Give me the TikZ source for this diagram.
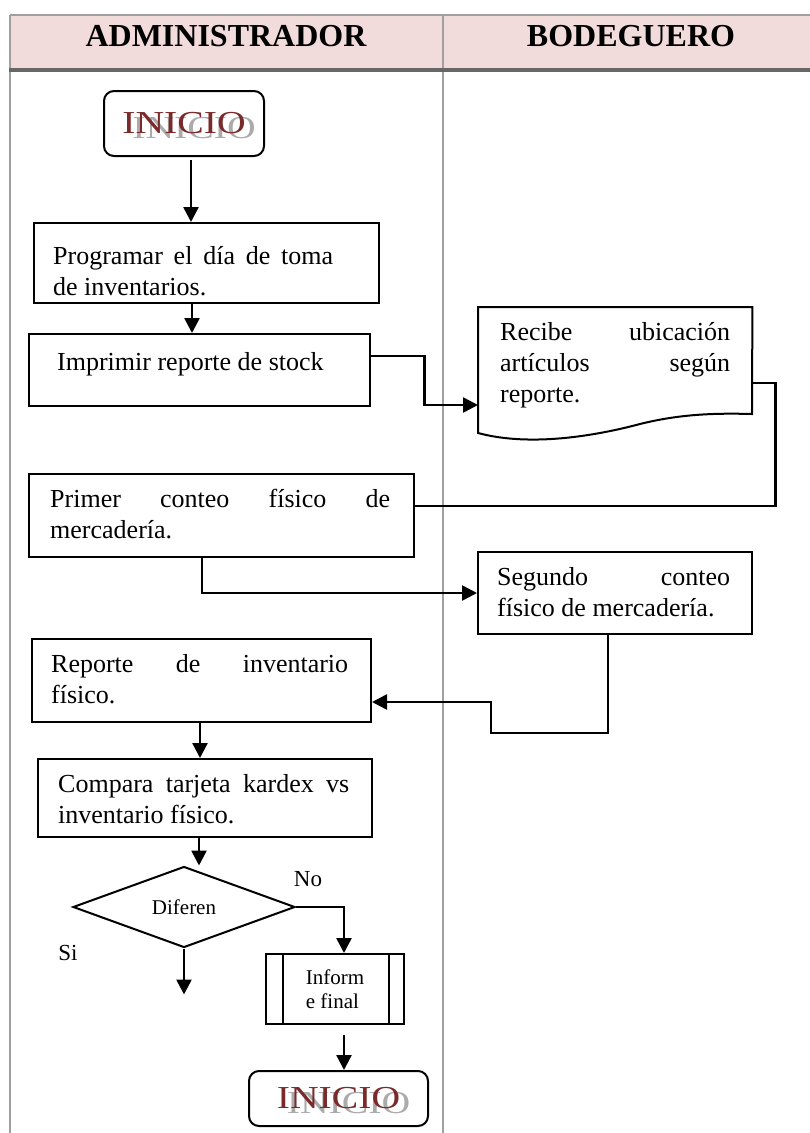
\documentclass[tikz,border=0pt]{standalone}
\usepackage{fontspec}
\usepackage{graphicx}
\setmainfont{Liberation Serif}
\usetikzlibrary{calc,shapes.geometric,arrows.meta}

\definecolor{headfill}{HTML}{F2DCDB}
\definecolor{rulegray}{HTML}{A0A0A0}
\definecolor{rulethick}{HTML}{666666}
\definecolor{iniciored}{HTML}{7A2A2A}
\definecolor{inicioshade}{HTML}{ABABAB}

% a line stretched to a fixed width (justified)
\newcommand{\jline}[2]{\makebox[#1][s]{#2}}
% the word of the terminal boxes, with its grey shadow
\newcommand{\inicioword}{\rlap{\smash{\hspace{10pt}\raisebox{-5pt}{\color{inicioshade}\scalebox{1.24}[1]{INICIO}}}}\textcolor{iniciored}{\scalebox{1.24}[1]{INICIO}}}

\begin{document}
\begin{tikzpicture}[x=1pt,y=-1pt,
  box/.style={draw, line width=2pt, rectangle, anchor=north west, inner sep=0pt},
  term/.style={draw, line width=2pt, rectangle, rounded corners=10pt, anchor=north west,
    inner sep=0pt, font=\fontsize{32}{38}\selectfont},
  txt/.style={anchor=base west, inner sep=0pt, align=left, font=\fontsize{26}{31}\selectfont},
  small/.style={font=\fontsize{21}{24}\selectfont},
  lbl/.style={inner sep=0pt, font=\fontsize{23}{27}\selectfont},
  head/.style={anchor=base, inner sep=0pt, font=\fontsize{32}{38}\selectfont\bfseries},
  conn/.style={line width=2.6pt},
  arr/.style={conn, -{Triangle[length=15pt,width=15pt]}},
  lane/.style={rulegray, line width=2.3pt}]

\useasboundingbox (0,0) rectangle (810,1133);

% ---- swimlane table ----
\fill[headfill] (10,15) rectangle (810,70);
\draw[lane] (10,15) -- (810,15);
\draw[lane] (10,15) -- (10,1133);
\draw[lane] (443,15) -- (443,1133);
\draw[rulethick, line width=3.5pt] (9,70) -- (810,70);
\node[head] (hadm) at (226,46) {ADMINISTRADOR};
\node[head] (hbod) at (631,46) {BODEGUERO};

% ---- process boxes (text nodes are anchored at the baseline of their last line) ----
\node[term, minimum width=160pt, minimum height=65pt] (start) at (103,90) {\inicioword};

\node[box, minimum width=345pt, minimum height=80pt] (b1) at (33,222) {};
\node[txt] (b1t) at (53,295) {\jline{280pt}{Programar el día de toma}\\de inventarios.};

\node[box, minimum width=341pt, minimum height=72pt] (b2) at (28,333) {};
\node[txt] (b2t) at (57,370) {Imprimir reporte de stock};

% document shape with a wavy lower edge
\node[anchor=north west, inner sep=0pt, minimum width=274pt, minimum height=126pt] (doc) at (478,307) {};
\draw[line width=2pt] (doc.north west) -- (doc.north east) -- (752,414)
  .. controls (715,413) and (680,414) .. (640,424)
  .. controls (595,436) and (530,447) .. (478,433) -- cycle;
\node[txt] (doct) at (500,402) {\jline{230pt}{Recibe ubicación}\\\jline{230pt}{artículos según}\\reporte.};

\node[box, minimum width=385pt, minimum height=83pt] (b3) at (28,473) {};
\node[txt] (b3t) at (50,538) {\jline{340pt}{Primer conteo físico de}\\mercadería.};

\node[box, minimum width=274pt, minimum height=82pt] (b4) at (477,551) {};
\node[txt] (b4t) at (497,616) {\jline{233pt}{Segundo conteo}\\físico de mercadería.};

\node[box, minimum width=339pt, minimum height=83pt] (b5) at (31,638) {};
\node[txt] (b5t) at (51,703) {\jline{297pt}{Reporte de inventario}\\físico.};

\node[box, minimum width=334pt, minimum height=78pt] (b6) at (37,758) {};
\node[txt] (b6t) at (58,823) {\jline{291pt}{Compara tarjeta kardex vs}\\inventario físico.};

\node[diamond, draw, line width=2pt, inner sep=0pt, minimum width=222pt, minimum height=81pt, small] (dia) at (184,907) {Diferen};

\node[box, small, align=left, minimum width=138pt, minimum height=70pt] (b7) at (265,953) {Inform\\e final};
\draw[line width=1.8pt] ($(b7.north west)+(18,0)$) -- ($(b7.south west)+(18,0)$);
\draw[line width=1.8pt] ($(b7.north east)+(-16,0)$) -- ($(b7.south east)+(-16,0)$);

\node[term, minimum width=179pt, minimum height=55pt] (end) at (248,1070) {\inicioword};

\node[lbl] (no) at (308,879) {No};
\node[lbl] (si) at (68,953) {Si};

% ---- connectors ----
\coordinate (a1) at ($(start.south)+(7,3)$);
\draw[arr] (a1) -- (a1 |- b1.north);

\coordinate (a2) at ($(b1.south west)+(159,0)$);
\draw[arr] (a2) -- (a2 |- b2.north);

\coordinate (c1) at ($(b2.north east)+(0,23)$);
\coordinate (c2) at ($(doc.north west)+(0,98)$);
\draw[arr] (c1) -| ($(c1)!.5!(c2)$) |- (c2);

\coordinate (d1) at ($(doc.north east)+(0,76)$);
\coordinate (d2) at ($(b3.north east)+(0,33)$);
\draw[conn] (d1) -- ++(23,0) |- (d2);

\coordinate (e1) at ($(b3.south west)+(174,0)$);
\draw[arr] (e1) |- (b4.west);

\coordinate (f1) at ($(b4.south west)+(131,0)$);
\coordinate (f2) at ($(b5.north east)+(0,64)$);
\draw[arr] (f1) -- ++(0,98) -| ($(f2)+(119,0)$) -- (f2);

\coordinate (g1) at ($(b5.south west)+(169,0)$);
\draw[arr] (g1) -- (g1 |- b6.north);

\coordinate (g2) at ($(b6.south west)+(162,0)$);
\draw[arr] (g2) -- (g2 |- dia.north);

\coordinate (h1) at ($(b7.north west)+(79,0)$);
\draw[arr] (dia.east) -| (h1);

\coordinate (siend) at ($(dia.south)+(0,46)$);
\draw[arr] (dia.south) -- (siend);

\coordinate (k1) at ($(b7.south west)+(79,10)$);
\draw[arr] (k1) -- (k1 |- end.north);

\end{tikzpicture}
\end{document}
